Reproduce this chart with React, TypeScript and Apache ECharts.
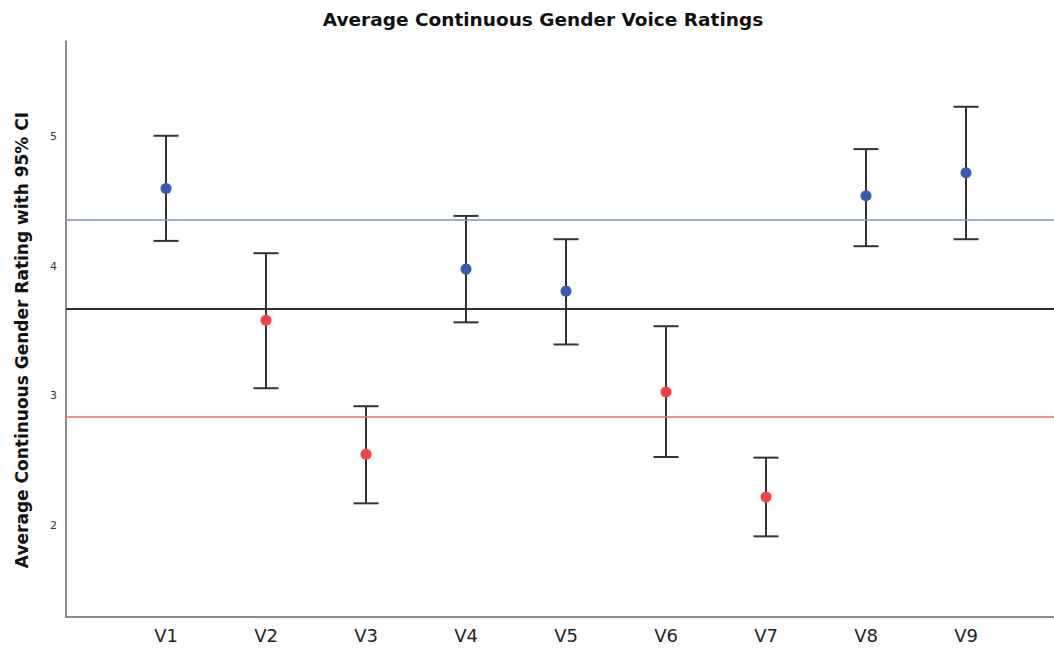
import React, { useEffect, useRef } from "react";
import * as echarts from "echarts";

const categories = ["V1", "V2", "V3", "V4", "V5", "V6", "V7", "V8", "V9"];
const means = [4.601, 3.583, 2.548, 3.978, 3.808, 3.029, 2.218, 4.544, 4.722];
const lower = [4.196, 3.058, 2.169, 3.567, 3.396, 2.527, 1.914, 4.155, 4.209];
const upper = [5.008, 4.101, 2.919, 4.389, 4.209, 3.537, 2.522, 4.905, 5.232];
const groups = ["M", "F", "F", "M", "M", "F", "F", "M", "M"];
const refMale = 4.362;
const refOverall = 3.671;
const refFemale = 2.842;
const yTicks = [2, 3, 4, 5];

const BLUE = "#3b59ad";
const RED = "#ef4444";

export default function App() {
  const ref = useRef<HTMLDivElement>(null);
  useEffect(() => {
    const chart = echarts.init(ref.current!, null, { renderer: "svg" });
    const xIdx = categories.map((_, i) => i + 1);
    const errData = categories.map((_, i) => [xIdx[i], lower[i], upper[i]]);
    const ptData = categories.map((_, i) => ({
      value: [xIdx[i], means[i]],
      itemStyle: { color: groups[i] === "M" ? BLUE : RED, opacity: 1 },
    }));
    chart.setOption({
      animation: false,
      backgroundColor: "#ffffff",
      title: {
        text: "Average Continuous Gender Voice Ratings",
        left: 538,
        top: 5,
        textAlign: "center",
        textStyle: { fontFamily: "DejaVu Sans", fontSize: 18.5, fontWeight: "bold", color: "#111" },
      },
      graphic: [
        {
          type: "text",
          x: 22,
          y: 340,
          rotation: Math.PI / 2,
          style: {
            text: "Average Continuous Gender Rating with 95% CI",
            fontFamily: "DejaVu Sans",
            fontSize: 17,
            fontWeight: "bold",
            fill: "#111",
            align: "center",
            verticalAlign: "middle",
          },
        },
      ],
      grid: { left: 66, top: 41, right: 0, bottom: 32, containLabel: false },
      xAxis: {
        type: "value",
        min: 0,
        max: 9.88,
        axisLine: { show: true, lineStyle: { color: "#666", width: 1.5 } },
        axisTick: { show: false },
        splitLine: { show: false },
        axisLabel: {
          customValues: xIdx,
          formatter: (v: number) => categories[Math.round(v) - 1] ?? "",
          fontFamily: "DejaVu Sans",
          fontSize: 18,
          color: "#222",
          margin: 9,
        },
      },
      yAxis: {
        type: "value",
        min: 1.291,
        max: 5.74,
        axisLine: { show: true, lineStyle: { color: "#666", width: 1.5 } },
        axisTick: { show: false },
        splitLine: { show: false },
        axisLabel: {
          customValues: yTicks,
          fontFamily: "DejaVu Sans",
          fontSize: 11,
          color: "#333",
          margin: 9,
        },
      },
      series: [
        {
          type: "line",
          data: [],
          markLine: {
            silent: true,
            symbol: "none",
            label: { show: false },
            data: [
              { yAxis: refMale, lineStyle: { color: "#7f90d2", width: 1.5, type: "solid" } },
              { yAxis: refOverall, lineStyle: { color: "#333", width: 2, type: "solid" } },
              { yAxis: refFemale, lineStyle: { color: "#ef6c6c", width: 1.5, type: "solid" } },
            ],
          },
        },
        {
          type: "custom",
          data: errData,
          z: 3,
          renderItem: (params: any, api: any) => {
            const x = api.value(0);
            const lo = api.coord([x, api.value(1)]);
            const hi = api.coord([x, api.value(2)]);
            const w = 12.5;
            const style = { stroke: "#333", lineWidth: 2 };
            return {
              type: "group",
              children: [
                { type: "line", shape: { x1: lo[0], y1: lo[1], x2: hi[0], y2: hi[1] }, style },
                { type: "line", shape: { x1: hi[0] - w, y1: hi[1], x2: hi[0] + w, y2: hi[1] }, style },
                { type: "line", shape: { x1: lo[0] - w, y1: lo[1], x2: lo[0] + w, y2: lo[1] }, style },
              ],
            };
          },
        },
        {
          type: "scatter",
          data: ptData,
          symbolSize: 11,
          z: 4,
        },
      ],
    });
    return () => chart.dispose();
  }, []);
  return <div ref={ref} style={{ width: 1054, height: 649, position: "absolute", left: 0, top: 0 }} />;
}
